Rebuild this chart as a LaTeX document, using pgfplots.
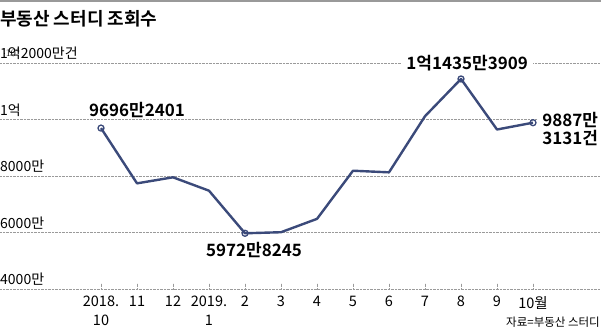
\documentclass[border=0pt]{standalone}
\usepackage{fontspec}
\setmainfont{Noto Sans CJK KR}[BoldFont={Noto Sans CJK KR Bold}]
\usepackage{pgfplots}
\pgfplotsset{compat=1.18}
\definecolor{navy}{HTML}{3B4A7A}
\definecolor{gridc}{HTML}{9A9A9A}
\begin{document}
\begin{tikzpicture}
\useasboundingbox (0pt,0pt) rectangle (601pt,-329pt);
\fill[gray!80] (0pt,0pt) rectangle (601pt,-2.5pt);
\node[anchor=base west,inner sep=0pt,font=\fontsize{18}{20}\selectfont\bfseries] at (0pt,-26pt) {부동산 스터디 조회수};
\begin{axis}[
  at={(0pt,-289pt)}, anchor=south west,
  scale only axis, width=600pt, height=226pt,
  xmin=-2.8056, xmax=13.861, ymin=4000, ymax=12000,
  axis line style={draw=none},
  ytick={4000,6000,8000,10000,12000}, yticklabels={},
  ymajorgrids, grid style={densely dotted, gridc, line width=0.8pt},
  ytick style={draw=none},
  xtick={0,...,12},
  xticklabels={{2018.\\10},11,12,{2019.\\1},2,3,4,5,6,7,8,9,10월},
  tick pos=bottom, tick align=inside, major tick length=6pt,
  xtick style={densely dotted, gridc, line width=0.8pt},
  xticklabel style={align=center, font=\fontsize{14.5}{19}\selectfont, inner sep=0pt, yshift=-7pt},
  /pgf/number format/assume math mode=true,
  clip=false,
]
\addplot[navy, line width=2.4pt, line join=round, mark=o, mark size=3pt, mark indices={1,5,11,13},
  mark options={fill=white, line width=1.3pt, solid}]
  coordinates {(0,9696.24) (1,7740) (2,7954) (3,7480) (4,5972.82) (5,6010) (6,6483) (7,8187) (8,8130) (9,10117) (10,11435.39) (11,9646) (12,9887.31)};
\node[anchor=base west, inner sep=0pt, font=\fontsize{14}{16}\selectfont, yshift=4.5pt] at (axis cs:-2.8056,12000) {1억2000만건};
\node[anchor=base west, inner sep=0pt, font=\fontsize{14}{16}\selectfont, yshift=4.5pt] at (axis cs:-2.8056,10000) {1억};
\node[anchor=base west, inner sep=0pt, font=\fontsize{14}{16}\selectfont, yshift=4.5pt] at (axis cs:-2.8056,8000) {8000만};
\node[anchor=base west, inner sep=0pt, font=\fontsize{14}{16}\selectfont, yshift=4.5pt] at (axis cs:-2.8056,6000) {6000만};
\node[anchor=base west, inner sep=0pt, font=\fontsize{14}{16}\selectfont, yshift=4.5pt] at (axis cs:-2.8056,4000) {4000만};
\node[font=\fontsize{17}{18}\selectfont\bfseries, inner sep=1pt] at (axis cs:1.0,10336) {9696만2401};
\node[font=\fontsize{17}{18}\selectfont\bfseries, inner sep=1pt] at (axis cs:4.25,5381) {5972만8245};
\node[font=\fontsize{17}{18}\selectfont\bfseries, fill=white, inner xsep=5pt, inner ysep=1pt] at (axis cs:10.17,12000) {1억1435만3909};
\node[font=\fontsize{17}{18}\selectfont\bfseries, fill=white, align=left, anchor=west, inner xsep=4pt, inner ysep=1pt] at (axis cs:12.14,9664) {9887만\\3131건};
\end{axis}
\node[anchor=base east, inner sep=0pt, font=\fontsize{11.5}{13}\selectfont] at (600pt,-326pt) {자료=부동산 스터디};
\end{tikzpicture}
\end{document}
